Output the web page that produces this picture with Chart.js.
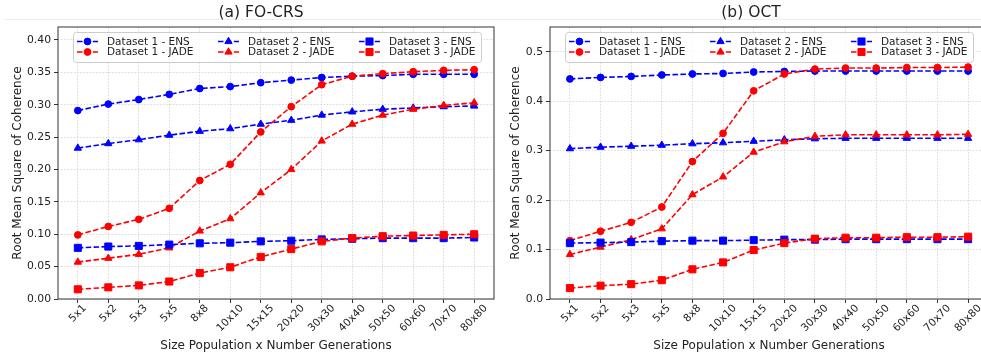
<!DOCTYPE html>
<html>
<head>
<meta charset="utf-8">
<title>RMSC vs population x generations</title>
<script src="https://cdn.jsdelivr.net/npm/chart.js@4"></script>
<style>
  html, body { margin: 0; padding: 0; background: #fff; }
  body { width: 981px; height: 360px; overflow: hidden; position: relative; }
  .panel { position: absolute; top: 0; width: 500px; height: 360px; }
  #panelA { left: 0; }
  #panelB { left: 500px; }
  #rule { position: absolute; left: 5px; right: 0; top: 19px; height: 1px; background: #eeeeee; }
</style>
</head>
<body>
<div id="rule"></div>
<div class="panel" id="panelA"><canvas id="chartA" width="500" height="360"></canvas></div>
<div class="panel" id="panelB"><canvas id="chartB" width="500" height="360"></canvas></div>

<script>
// x axis: population size x number of generations
const sizes = ["5x1", "5x2", "5x3", "5x5", "8x8", "10x10", "15x15", "20x20",
               "30x30", "40x40", "50x50", "60x60", "70x70", "80x80"];

const seriesNames = ["Dataset 1 - ENS", "Dataset 1 - JADE",
                     "Dataset 2 - ENS", "Dataset 2 - JADE",
                     "Dataset 3 - ENS", "Dataset 3 - JADE"];

// (a) FO-CRS
const crsD1Ens  = [0.291, 0.301, 0.308, 0.316, 0.325, 0.328, 0.334, 0.338, 0.342, 0.344, 0.345, 0.347, 0.347, 0.347];
const crsD1Jade = [0.099, 0.112, 0.123, 0.140, 0.183, 0.208, 0.258, 0.297, 0.331, 0.344, 0.348, 0.351, 0.353, 0.354];
const crsD2Ens  = [0.233, 0.240, 0.246, 0.253, 0.259, 0.263, 0.270, 0.276, 0.284, 0.289, 0.293, 0.295, 0.297, 0.298];
const crsD2Jade = [0.057, 0.063, 0.069, 0.079, 0.105, 0.124, 0.164, 0.200, 0.244, 0.270, 0.284, 0.293, 0.299, 0.303];
const crsD3Ens  = [0.079, 0.081, 0.082, 0.084, 0.086, 0.087, 0.089, 0.090, 0.092, 0.093, 0.094, 0.094, 0.094, 0.095];
const crsD3Jade = [0.015, 0.018, 0.021, 0.027, 0.040, 0.049, 0.065, 0.077, 0.089, 0.094, 0.097, 0.098, 0.099, 0.100];

// (b) OCT
const octD1Ens  = [0.445, 0.448, 0.450, 0.453, 0.455, 0.456, 0.459, 0.460, 0.461, 0.461, 0.461, 0.461, 0.461, 0.461];
const octD1Jade = [0.118, 0.137, 0.155, 0.186, 0.278, 0.335, 0.421, 0.455, 0.465, 0.467, 0.467, 0.468, 0.468, 0.469];
const octD2Ens  = [0.304, 0.307, 0.309, 0.311, 0.314, 0.316, 0.319, 0.322, 0.324, 0.325, 0.325, 0.325, 0.325, 0.325];
const octD2Jade = [0.090, 0.105, 0.120, 0.142, 0.211, 0.247, 0.297, 0.318, 0.329, 0.332, 0.332, 0.332, 0.332, 0.333];
const octD3Ens  = [0.113, 0.114, 0.115, 0.117, 0.118, 0.118, 0.119, 0.120, 0.120, 0.121, 0.121, 0.121, 0.121, 0.121];
const octD3Jade = [0.022, 0.027, 0.030, 0.038, 0.060, 0.074, 0.099, 0.113, 0.122, 0.124, 0.124, 0.125, 0.125, 0.126];

const crsTicks = [0, 0.05, 0.10, 0.15, 0.20, 0.25, 0.30, 0.35, 0.40];
const octTicks = [0, 0.1, 0.2, 0.3, 0.4, 0.5];

// look of each series (same order as seriesNames)
const colors = ["#0000ff", "#ff0000", "#0000ff", "#ff0000", "#0000ff", "#ff0000"];
const markers = ["circle", "circle", "triangle", "triangle", "rect", "rect"];
const markerSize = { circle: 3.4, triangle: 4.2, rect: 5 };

const FONT = "'DejaVu Sans', Verdana, sans-serif";
const INK = "#222";

function makeDatasets(seriesList) {
    return seriesList.map((values, k) => ({
        label: seriesNames[k],
        data: values.map((v, i) => ({ x: i, y: v })),
        borderColor: colors[k],
        backgroundColor: colors[k],
        borderWidth: 1.6,
        borderDash: [5.5, 2.4],
        pointStyle: markers[k],
        pointRadius: markerSize[markers[k]],
        pointBorderWidth: 1,
        pointBorderColor: colors[k],
        pointBackgroundColor: colors[k],
        tension: 0,
        order: -k   // later series painted on top
    }));
}

// frame, titles, rotated x labels and the 3-column legend
const decorations = {
    id: "decorations",
    afterDatasetsDraw(chart) {
        const { ctx, chartArea: a } = chart;
        ctx.save();
        ctx.strokeStyle = "#333";
        ctx.lineWidth = 1;
        ctx.strokeRect(a.left, a.top, a.right - a.left, a.bottom - a.top);
        ctx.restore();
    },
    afterDraw(chart, args, opts) {
        const { ctx, chartArea: a, scales } = chart;
        ctx.save();
        ctx.fillStyle = INK;

        // title
        ctx.font = "15.5px " + FONT;
        ctx.textAlign = "center";
        ctx.textBaseline = "alphabetic";
        ctx.fillText(opts.title, opts.titleX, 17);

        // x tick labels, rotated 45 deg, centred under each tick
        ctx.font = "10.5px " + FONT;
        ctx.textBaseline = "middle";
        sizes.forEach((lab, i) => {
            const x = scales.x.getPixelForValue(i);
            const w = ctx.measureText(lab).width;
            const side = (w + 10.5) * Math.SQRT1_2;
            ctx.save();
            ctx.translate(x, a.bottom + 4 + side / 2);
            ctx.rotate(-Math.PI / 4);
            ctx.fillText(lab, 0, 0);
            ctx.restore();
        });

        // axis titles
        ctx.font = "12px " + FONT;
        ctx.fillText("Size Population x Number Generations", (a.left + a.right) / 2, 346);
        ctx.save();
        ctx.translate(opts.yTitleX, (a.top + a.bottom) / 2);
        ctx.rotate(-Math.PI / 2);
        ctx.fillText("Root Mean Square of Coherence", 0, 0);
        ctx.restore();

        // legend
        const lx = a.left + 15, ly = 32, lw = 408, lh = 30;
        ctx.beginPath();
        ctx.roundRect(lx + 0.5, ly + 0.5, lw, lh, 3);
        ctx.fillStyle = "rgba(255,255,255,0.8)";
        ctx.fill();
        ctx.strokeStyle = "#cccccc";
        ctx.lineWidth = 1;
        ctx.stroke();

        ctx.font = "10.5px " + FONT;
        ctx.textAlign = "left";
        chart.data.datasets.forEach((ds, k) => {
            const col = Math.floor(k / 2), row = k % 2;
            const x0 = lx + 4 + col * 141;
            const y = ly + 9.5 + row * 10.5;
            ctx.save();
            ctx.strokeStyle = ds.borderColor;
            ctx.lineWidth = 1.6;
            ctx.setLineDash(ds.borderDash);
            ctx.beginPath();
            ctx.moveTo(x0, y);
            ctx.lineTo(x0 + 21, y);
            ctx.stroke();
            ctx.setLineDash([]);
            ctx.fillStyle = ds.backgroundColor;
            ctx.strokeStyle = ds.borderColor;
            ctx.lineWidth = 1;
            Chart.helpers.drawPoint(ctx, {
                pointStyle: ds.pointStyle, radius: ds.pointRadius,
                rotation: 0, borderWidth: 1
            }, x0 + 10.5, y);
            ctx.restore();
            ctx.fillStyle = INK;
            ctx.fillText(ds.label, x0 + 30, y + 0.5);
        });
        ctx.restore();
    }
};

function makeChart(canvasId, seriesList, yTicks, yMax, decimals, panel) {
    return new Chart(document.getElementById(canvasId), {
        type: "line",
        data: { datasets: makeDatasets(seriesList) },
        plugins: [decorations],
        options: {
            responsive: false,
            animation: false,
            events: [],
            layout: { padding: { top: 27, right: panel.padRight, bottom: 0, left: 0 } },
            plugins: {
                legend: { display: false },
                tooltip: { enabled: false },
                decorations: panel
            },
            scales: {
                x: {
                    type: "linear",
                    min: -0.65,
                    max: sizes.length - 1 + 0.65,
                    afterBuildTicks: s => { s.ticks = sizes.map((_, i) => ({ value: i })); },
                    afterFit: s => { s.height = 61; },
                    ticks: { display: false },
                    grid: { color: "#d0d0d0", lineWidth: 0.8, tickLength: 4, tickColor: "#333", tickWidth: 1 },
                    border: { display: false, dash: [1.6, 1.6] }
                },
                y: {
                    type: "linear",
                    min: 0,
                    max: yMax,
                    afterBuildTicks: s => { s.ticks = yTicks.map(v => ({ value: v })); },
                    afterFit: s => { s.width = panel.yWidth; },
                    ticks: {
                        color: INK,
                        padding: 3,
                        font: { family: FONT, size: 10.8 },
                        callback: v => v.toFixed(decimals)
                    },
                    grid: { color: "#d0d0d0", lineWidth: 0.8, tickLength: 4, tickColor: "#333", tickWidth: 1 },
                    border: { display: false, dash: [1.6, 1.6] }
                }
            }
        }
    });
}

makeChart("chartA",
    [crsD1Ens, crsD1Jade, crsD2Ens, crsD2Jade, crsD3Ens, crsD3Jade],
    crsTicks, 0.42, 2,
    { title: "(a) FO-CRS", titleX: 261, yTitleX: 17.5, yWidth: 58, padRight: 3 });

makeChart("chartB",
    [octD1Ens, octD1Jade, octD2Ens, octD2Jade, octD3Ens, octD3Jade],
    octTicks, 0.55, 1,
    { title: "(b) OCT", titleX: 251, yTitleX: 16, yWidth: 50, padRight: 12 });
</script>
</body>
</html>
